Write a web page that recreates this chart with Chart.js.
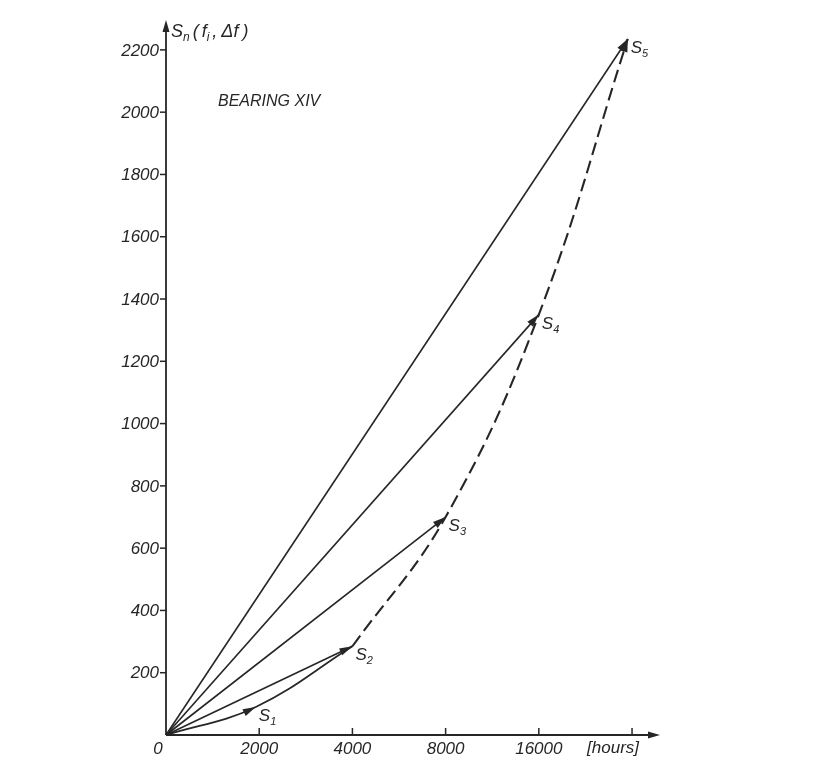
<!DOCTYPE html>
<html>
<head>
<meta charset="utf-8">
<script src="https://cdn.jsdelivr.net/npm/chart.js@4.4.1/dist/chart.umd.min.js"></script>
<style>
  html, body { margin: 0; padding: 0; background: #fff; }
  #wrap { width: 825px; height: 763px; }
</style>
</head>
<body>
<div id="wrap"><canvas id="chart" width="825" height="763"></canvas></div>
<script>
// x axis is doubling hours: 0, 2000, 4000, 8000, 16000, (32000)
const hourTicks = [0, 2000, 4000, 8000, 16000, 32000];
const hourTickLabels = ['0', '2000', '4000', '8000', '16000', ''];
const hourUnit = '[hours]';
const valueTicks = [200, 400, 600, 800, 1000, 1200, 1400, 1600, 1800, 2000, 2200];

const stateNames = ['1', '2', '3', '4', '5'];     // S subscripts
const stateHours = [1950, 4000, 8000, 16000, 31000];
const stateValues = [90, 285, 700, 1350, 2235];

const yTitle = 'Sn(fi,Δf)';
const bearingName = 'BEARING XIV';

// map hours to the doubling axis position
const hoursToAxis = h => (h > 0 ? Math.log2(h / 1000) : 0);

const origin = { x: 0, y: 0 };
const states = stateHours.map((h, i) => ({ x: hoursToAxis(h), y: stateValues[i] }));

const ink = '#262626';
const FONT = '"Liberation Sans", Arial, sans-serif';

const datasets = [];
// curved path 0 -> S1 -> S2
datasets.push({
  data: [origin, states[0], states[1]],
  tension: 0.4,
  borderWidth: 1.7,
  arrowAt: 1
});
// rays from origin to S2..S5
for (let i = 1; i < states.length; i++) {
  datasets.push({ data: [origin, states[i]], borderWidth: 1.6, arrowAt: 1 });
}
// dashed curve S2 -> S5
datasets.push({
  data: states.slice(1),
  tension: 0.4,
  borderWidth: 2.1,
  borderDash: [13, 6],
  arrowAt: states.length - 2
});
datasets.forEach(d => {
  d.borderColor = ink;
  d.pointRadius = 0;
  d.clip = false;
  d.fill = false;
});

function arrowHead(ctx, tipX, tipY, fromX, fromY, len, half) {
  const a = Math.atan2(tipY - fromY, tipX - fromX);
  ctx.save();
  ctx.translate(tipX, tipY);
  ctx.rotate(a);
  ctx.beginPath();
  ctx.moveTo(0, 0);
  ctx.lineTo(-len, -half);
  ctx.lineTo(-len, half);
  ctx.closePath();
  ctx.fill();
  ctx.restore();
}

function drawPieces(ctx, x, y, pieces) {
  let cx = x;
  pieces.forEach(p => {
    ctx.font = 'italic ' + p.size + 'px ' + FONT;
    ctx.fillText(p.text, cx, y + (p.dy || 0));
    cx += ctx.measureText(p.text).width + (p.gap || 0);
  });
}

const axesPlugin = {
  id: 'axes',
  afterDraw(chart) {
    const { ctx, chartArea, scales } = chart;
    const xs = scales.x, ys = scales.y;
    const x0 = xs.getPixelForValue(0), y0 = ys.getPixelForValue(0);
    ctx.save();
    ctx.strokeStyle = ink;
    ctx.fillStyle = ink;
    ctx.lineWidth = 1.8;
    ctx.beginPath();
    ctx.moveTo(x0, y0);
    ctx.lineTo(x0, chartArea.top + 4);
    ctx.moveTo(x0, y0);
    ctx.lineTo(chartArea.right - 4, y0);
    ctx.stroke();
    arrowHead(ctx, x0, chartArea.top, x0, y0, 12, 3.5);
    arrowHead(ctx, chartArea.right, y0, x0, y0, 12, 3.5);

    // y ticks
    ctx.lineWidth = 1.5;
    ctx.font = 'italic 17px ' + FONT;
    ctx.textAlign = 'right';
    ctx.textBaseline = 'middle';
    valueTicks.forEach(v => {
      const py = ys.getPixelForValue(v);
      ctx.beginPath();
      ctx.moveTo(x0 - 6, py);
      ctx.lineTo(x0, py);
      ctx.stroke();
      ctx.fillText(String(v), x0 - 7, py + 1);
    });

    // x ticks
    ctx.textAlign = 'center';
    hourTicks.forEach((h, i) => {
      const px = xs.getPixelForValue(hoursToAxis(h));
      if (h > 0) {
        ctx.beginPath();
        ctx.moveTo(px, y0);
        ctx.lineTo(px, y0 - 7);
        ctx.stroke();
      }
      const lbl = hourTickLabels[i];
      if (lbl) ctx.fillText(lbl, h === 0 ? px - 8 : px, y0 + 14);
    });
    const lastX = xs.getPixelForValue(hoursToAxis(hourTicks[hourTicks.length - 1]));
    ctx.fillText(hourUnit, lastX - 19, y0 + 13);

    // y title  S_n(f_i, Δf)
    ctx.textAlign = 'left';
    ctx.textBaseline = 'alphabetic';
    drawPieces(ctx, x0 + 5, 37, [
      { text: yTitle[0], size: 18 },
      { text: yTitle[1], size: 12, dy: 4, gap: 3 },
      { text: yTitle[2], size: 18, gap: 3 },
      { text: yTitle[3], size: 18 },
      { text: yTitle[4], size: 12, dy: 4, gap: 3 },
      { text: yTitle[5], size: 18, gap: 4 },
      { text: yTitle.slice(6, 8), size: 18, gap: 4 },
      { text: yTitle[8], size: 18 }
    ]);

    ctx.font = 'italic 16px ' + FONT;
    ctx.textBaseline = 'middle';
    ctx.fillText(bearingName, x0 + 52, ys.getPixelForValue(2000) - 11);
    ctx.restore();
  }
};

const arrowPlugin = {
  id: 'arrows',
  afterDatasetsDraw(chart) {
    const { ctx } = chart;
    ctx.save();
    ctx.fillStyle = ink;
    chart.data.datasets.forEach((ds, di) => {
      const meta = chart.getDatasetMeta(di);
      const p = meta.data[ds.arrowAt];
      const prev = meta.data[ds.arrowAt - 1];
      let fx = prev.x, fy = prev.y;
      if (p.cp1x !== undefined && Math.hypot(p.cp1x - p.x, p.cp1y - p.y) > 1) {
        fx = p.cp1x; fy = p.cp1y;
      }
      arrowHead(ctx, p.x, p.y, fx, fy, 13, 3.8);
    });

    // state labels S1..S5
    const xs = chart.scales.x, ys = chart.scales.y;
    ctx.textAlign = 'left';
    ctx.textBaseline = 'alphabetic';
    states.forEach((s, i) => {
      const px = xs.getPixelForValue(s.x), py = ys.getPixelForValue(s.y);
      drawPieces(ctx, px + 3, py + 14, [
        { text: 'S', size: 17 },
        { text: stateNames[i], size: 11, dy: 4 }
      ]);
    });
    ctx.restore();
  }
};

new Chart(document.getElementById('chart'), {
  type: 'line',
  data: { datasets },
  options: {
    responsive: false,
    animation: false,
    layout: { padding: { left: 166, right: 165, top: 20, bottom: 28 } },
    scales: {
      x: { type: 'linear', min: 0, max: 5.3, display: false },
      y: { type: 'linear', min: 0, max: 2296, display: false }
    },
    plugins: { legend: { display: false }, tooltip: { enabled: false } }
  },
  plugins: [axesPlugin, arrowPlugin]
});
</script>
</body>
</html>
